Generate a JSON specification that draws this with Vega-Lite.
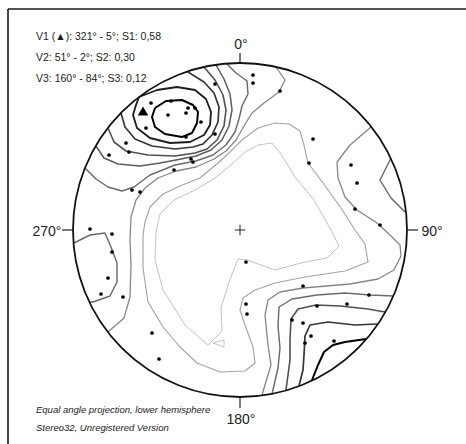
{
  "$schema": "https://vega.github.io/schema/vega-lite/v6.json",
  "width": 466,
  "height": 444,
  "padding": 0,
  "autosize": {"type": "none"},
  "background": "white",
  "config": {"view": {"stroke": null}},
  "datasets": {
    "contours": [
      {"c":"R1","l":8,"o":0,"x":-85,"y":122},{"c":"R1","l":8,"o":1,"x":-74,"y":129},{"c":"R1","l":8,"o":2,"x":-58,"y":130},{"c":"R1","l":8,"o":3,"x":-47,"y":125},{"c":"R1","l":8,"o":4,"x":-42,"y":118},{"c":"R1","l":8,"o":5,"x":-43,"y":107},{"c":"R1","l":8,"o":6,"x":-48,"y":97},{"c":"R1","l":8,"o":7,"x":-58,"y":93},{"c":"R1","l":8,"o":8,"x":-75,"y":96},{"c":"R1","l":8,"o":9,"x":-85,"y":103},{"c":"R1","l":8,"o":10,"x":-88,"y":113},{"c":"R1","l":8,"o":11,"x":-85,"y":122},
      {"c":"R2","l":7,"o":0,"x":-101,"y":133},{"c":"R2","l":7,"o":1,"x":-83,"y":140},{"c":"R2","l":7,"o":2,"x":-63,"y":143},{"c":"R2","l":7,"o":3,"x":-45,"y":140},{"c":"R2","l":7,"o":4,"x":-34,"y":131},{"c":"R2","l":7,"o":5,"x":-29,"y":118},{"c":"R2","l":7,"o":6,"x":-30,"y":105},{"c":"R2","l":7,"o":7,"x":-36,"y":95},{"c":"R2","l":7,"o":8,"x":-50,"y":88},{"c":"R2","l":7,"o":9,"x":-70,"y":87},{"c":"R2","l":7,"o":10,"x":-90,"y":92},{"c":"R2","l":7,"o":11,"x":-103,"y":102},{"c":"R2","l":7,"o":12,"x":-107,"y":115},{"c":"R2","l":7,"o":13,"x":-104,"y":125},{"c":"R2","l":7,"o":14,"x":-101,"y":133},
      {"c":"R3","l":6,"o":0,"x":-119,"y":117},{"c":"R3","l":6,"o":1,"x":-115,"y":103},{"c":"R3","l":6,"o":2,"x":-105,"y":91},{"c":"R3","l":6,"o":3,"x":-88,"y":84},{"c":"R3","l":6,"o":4,"x":-65,"y":81},{"c":"R3","l":6,"o":5,"x":-47,"y":83},{"c":"R3","l":6,"o":6,"x":-37,"y":86},{"c":"R3","l":6,"o":7,"x":-28,"y":95},{"c":"R3","l":6,"o":8,"x":-22,"y":108},{"c":"R3","l":6,"o":9,"x":-21,"y":123},{"c":"R3","l":6,"o":10,"x":-26,"y":137},{"c":"R3","l":6,"o":11,"x":-36,"y":148},{"c":"R3","l":6,"o":12,"x":-52,"y":158},
      {"c":"R4","l":5,"o":0,"x":-132,"y":102},{"c":"R4","l":5,"o":1,"x":-126,"y":88},{"c":"R4","l":5,"o":2,"x":-114,"y":79},{"c":"R4","l":5,"o":3,"x":-92,"y":75},{"c":"R4","l":5,"o":4,"x":-65,"y":74},{"c":"R4","l":5,"o":5,"x":-45,"y":77},{"c":"R4","l":5,"o":6,"x":-33,"y":81},{"c":"R4","l":5,"o":7,"x":-23,"y":90},{"c":"R4","l":5,"o":8,"x":-16,"y":104},{"c":"R4","l":5,"o":9,"x":-14,"y":120},{"c":"R4","l":5,"o":10,"x":-17,"y":135},{"c":"R4","l":5,"o":11,"x":-25,"y":150},{"c":"R4","l":5,"o":12,"x":-36,"y":163},
      {"c":"R4b","l":4.5,"o":0,"x":-144,"y":84},{"c":"R4b","l":4.5,"o":1,"x":-136,"y":72},{"c":"R4b","l":4.5,"o":2,"x":-122,"y":66},{"c":"R4b","l":4.5,"o":3,"x":-100,"y":64},{"c":"R4b","l":4.5,"o":4,"x":-80,"y":67},{"c":"R4b","l":4.5,"o":5,"x":-64,"y":70},{"c":"R4b","l":4.5,"o":6,"x":-44,"y":74},{"c":"R4b","l":4.5,"o":7,"x":-29,"y":80},{"c":"R4b","l":4.5,"o":8,"x":-18,"y":90},{"c":"R4b","l":4.5,"o":9,"x":-11,"y":104},{"c":"R4b","l":4.5,"o":10,"x":-8,"y":120},{"c":"R4b","l":4.5,"o":11,"x":-10,"y":136},{"c":"R4b","l":4.5,"o":12,"x":-16,"y":151},{"c":"R4b","l":4.5,"o":13,"x":-24,"y":165},
      {"c":"A","l":4,"o":0,"x":-155,"y":62},{"c":"A","l":4,"o":1,"x":-144,"y":51},{"c":"A","l":4,"o":2,"x":-132,"y":43},{"c":"A","l":4,"o":3,"x":-118,"y":39},{"c":"A","l":4,"o":4,"x":-106,"y":43},{"c":"A","l":4,"o":5,"x":-90,"y":55},{"c":"A","l":4,"o":6,"x":-65,"y":65},{"c":"A","l":4,"o":7,"x":-44,"y":69},{"c":"A","l":4,"o":8,"x":-27,"y":75},{"c":"A","l":4,"o":9,"x":-14,"y":85},{"c":"A","l":4,"o":10,"x":-5,"y":98},{"c":"A","l":4,"o":11,"x":-1,"y":111},{"c":"A","l":4,"o":12,"x":2,"y":124},{"c":"A","l":4,"o":13,"x":8,"y":136},{"c":"A","l":4,"o":14,"x":7,"y":149},{"c":"A","l":4,"o":15,"x":-4,"y":157},{"c":"A","l":4,"o":16,"x":-13,"y":166},
      {"c":"Q","l":3,"o":0,"x":36,"y":163},{"c":"Q","l":3,"o":1,"x":45,"y":150},{"c":"Q","l":3,"o":2,"x":39,"y":138},{"c":"Q","l":3,"o":3,"x":24,"y":127},{"c":"Q","l":3,"o":4,"x":12,"y":117},{"c":"Q","l":3,"o":5,"x":4,"y":104},{"c":"Q","l":3,"o":6,"x":-4,"y":90},{"c":"Q","l":3,"o":7,"x":-14,"y":79},{"c":"Q","l":3,"o":8,"x":-26,"y":71},{"c":"Q","l":3,"o":9,"x":-44,"y":63},{"c":"Q","l":3,"o":10,"x":-64,"y":59},{"c":"Q","l":3,"o":11,"x":-82,"y":52},{"c":"Q","l":3,"o":12,"x":-95,"y":42},{"c":"Q","l":3,"o":13,"x":-104,"y":30},{"c":"Q","l":3,"o":14,"x":-109,"y":13},{"c":"Q","l":3,"o":15,"x":-110,"y":-10},{"c":"Q","l":3,"o":16,"x":-109,"y":-35},{"c":"Q","l":3,"o":17,"x":-110,"y":-67},{"c":"Q","l":3,"o":18,"x":-116,"y":-88},{"c":"Q","l":3,"o":19,"x":-132,"y":-102},
      {"c":"L2","l":2,"o":0,"x":-95,"y":8},{"c":"L2","l":2,"o":1,"x":-90,"y":23},{"c":"L2","l":2,"o":2,"x":-77,"y":36},{"c":"L2","l":2,"o":3,"x":-60,"y":44},{"c":"L2","l":2,"o":4,"x":-40,"y":52},{"c":"L2","l":2,"o":5,"x":-22,"y":67},{"c":"L2","l":2,"o":6,"x":-10,"y":78},{"c":"L2","l":2,"o":7,"x":2,"y":90},{"c":"L2","l":2,"o":8,"x":18,"y":102},{"c":"L2","l":2,"o":9,"x":35,"y":107},{"c":"L2","l":2,"o":10,"x":49,"y":106},{"c":"L2","l":2,"o":11,"x":60,"y":99},{"c":"L2","l":2,"o":12,"x":64,"y":85},{"c":"L2","l":2,"o":13,"x":68,"y":67},{"c":"L2","l":2,"o":14,"x":83,"y":47},{"c":"L2","l":2,"o":15,"x":101,"y":22},{"c":"L2","l":2,"o":16,"x":115,"y":0},{"c":"L2","l":2,"o":17,"x":125,"y":-14},{"c":"L2","l":2,"o":18,"x":128,"y":-32},{"c":"L2","l":2,"o":19,"x":105,"y":-41},{"c":"L2","l":2,"o":20,"x":65,"y":-47},{"c":"L2","l":2,"o":21,"x":35,"y":-53},{"c":"L2","l":2,"o":22,"x":15,"y":-60},{"c":"L2","l":2,"o":23,"x":3,"y":-68},{"c":"L2","l":2,"o":24,"x":0,"y":-80},{"c":"L2","l":2,"o":25,"x":5,"y":-95},{"c":"L2","l":2,"o":26,"x":13,"y":-117},{"c":"L2","l":2,"o":27,"x":15,"y":-133},{"c":"L2","l":2,"o":28,"x":5,"y":-141},{"c":"L2","l":2,"o":29,"x":-20,"y":-142},{"c":"L2","l":2,"o":30,"x":-43,"y":-133},{"c":"L2","l":2,"o":31,"x":-60,"y":-117},{"c":"L2","l":2,"o":32,"x":-77,"y":-97},{"c":"L2","l":2,"o":33,"x":-92,"y":-72},{"c":"L2","l":2,"o":34,"x":-97,"y":-38},{"c":"L2","l":2,"o":35,"x":-97,"y":-5},{"c":"L2","l":2,"o":36,"x":-95,"y":8},
      {"c":"L1","l":1,"o":0,"x":-84,"y":-2},{"c":"L1","l":1,"o":1,"x":-80,"y":16},{"c":"L1","l":1,"o":2,"x":-66,"y":30},{"c":"L1","l":1,"o":3,"x":-45,"y":40},{"c":"L1","l":1,"o":4,"x":-25,"y":52},{"c":"L1","l":1,"o":5,"x":-8,"y":66},{"c":"L1","l":1,"o":6,"x":5,"y":78},{"c":"L1","l":1,"o":7,"x":18,"y":85},{"c":"L1","l":1,"o":8,"x":32,"y":87},{"c":"L1","l":1,"o":9,"x":41,"y":76},{"c":"L1","l":1,"o":10,"x":55,"y":53},{"c":"L1","l":1,"o":11,"x":74,"y":30},{"c":"L1","l":1,"o":12,"x":91,"y":0},{"c":"L1","l":1,"o":13,"x":99,"y":-16},{"c":"L1","l":1,"o":14,"x":87,"y":-28},{"c":"L1","l":1,"o":15,"x":61,"y":-33},{"c":"L1","l":1,"o":16,"x":35,"y":-40},{"c":"L1","l":1,"o":17,"x":21,"y":-35},{"c":"L1","l":1,"o":18,"x":7,"y":-30},{"c":"L1","l":1,"o":19,"x":-2,"y":-29},{"c":"L1","l":1,"o":20,"x":-11,"y":-52},{"c":"L1","l":1,"o":21,"x":-19,"y":-78},{"c":"L1","l":1,"o":22,"x":-18,"y":-101},{"c":"L1","l":1,"o":23,"x":-32,"y":-115},{"c":"L1","l":1,"o":24,"x":-55,"y":-95},{"c":"L1","l":1,"o":25,"x":-77,"y":-60},{"c":"L1","l":1,"o":26,"x":-85,"y":-30},{"c":"L1","l":1,"o":27,"x":-84,"y":-2},
      {"c":"L1b","l":1,"o":0,"x":-27,"y":-113},{"c":"L1b","l":1,"o":1,"x":-16,"y":-110},{"c":"L1b","l":1,"o":2,"x":-16,"y":-117},{"c":"L1b","l":1,"o":3,"x":-27,"y":-113},
      {"c":"C","l":3,"o":0,"x":131,"y":103},{"c":"C","l":3,"o":1,"x":110,"y":85},{"c":"C","l":3,"o":2,"x":97,"y":68},{"c":"C","l":3,"o":3,"x":98,"y":52},{"c":"C","l":3,"o":4,"x":105,"y":33},{"c":"C","l":3,"o":5,"x":117,"y":20},{"c":"C","l":3,"o":6,"x":137,"y":7},{"c":"C","l":3,"o":7,"x":150,"y":-5},{"c":"C","l":3,"o":8,"x":160,"y":-15},{"c":"C","l":3,"o":9,"x":161,"y":-26},{"c":"C","l":3,"o":10,"x":154,"y":-40},{"c":"C","l":3,"o":11,"x":138,"y":-49},{"c":"C","l":3,"o":12,"x":110,"y":-54},{"c":"C","l":3,"o":13,"x":63,"y":-58},{"c":"C","l":3,"o":14,"x":40,"y":-62},{"c":"C","l":3,"o":15,"x":28,"y":-70},{"c":"C","l":3,"o":16,"x":25,"y":-85},{"c":"C","l":3,"o":17,"x":28,"y":-115},{"c":"C","l":3,"o":18,"x":31,"y":-135},{"c":"C","l":3,"o":19,"x":22,"y":-165},
      {"c":"T4","l":4,"o":0,"x":153,"y":-66},{"c":"T4","l":4,"o":1,"x":130,"y":-65},{"c":"T4","l":4,"o":2,"x":105,"y":-63},{"c":"T4","l":4,"o":3,"x":77,"y":-65},{"c":"T4","l":4,"o":4,"x":52,"y":-69},{"c":"T4","l":4,"o":5,"x":39,"y":-77},{"c":"T4","l":4,"o":6,"x":38,"y":-96},{"c":"T4","l":4,"o":7,"x":40,"y":-118},{"c":"T4","l":4,"o":8,"x":38,"y":-138},{"c":"T4","l":4,"o":9,"x":32,"y":-164},
      {"c":"T3","l":5,"o":0,"x":145,"y":-82},{"c":"T3","l":5,"o":1,"x":128,"y":-79},{"c":"T3","l":5,"o":2,"x":100,"y":-76},{"c":"T3","l":5,"o":3,"x":76,"y":-75},{"c":"T3","l":5,"o":4,"x":58,"y":-79},{"c":"T3","l":5,"o":5,"x":51,"y":-89},{"c":"T3","l":5,"o":6,"x":50,"y":-110},{"c":"T3","l":5,"o":7,"x":50,"y":-130},{"c":"T3","l":5,"o":8,"x":46,"y":-160},
      {"c":"T2","l":6,"o":0,"x":137,"y":-94},{"c":"T2","l":6,"o":1,"x":115,"y":-95},{"c":"T2","l":6,"o":2,"x":88,"y":-92},{"c":"T2","l":6,"o":3,"x":70,"y":-95},{"c":"T2","l":6,"o":4,"x":65,"y":-106},{"c":"T2","l":6,"o":5,"x":64,"y":-125},{"c":"T2","l":6,"o":6,"x":63,"y":-140},{"c":"T2","l":6,"o":7,"x":59,"y":-156},
      {"c":"T1","l":8,"o":0,"x":126,"y":-109},{"c":"T1","l":8,"o":1,"x":105,"y":-112},{"c":"T1","l":8,"o":2,"x":93,"y":-115},{"c":"T1","l":8,"o":3,"x":84,"y":-122},{"c":"T1","l":8,"o":4,"x":78,"y":-135},{"c":"T1","l":8,"o":5,"x":72,"y":-150},
      {"c":"D","l":4,"o":0,"x":151,"y":72},{"c":"D","l":4,"o":1,"x":140,"y":50},{"c":"D","l":4,"o":2,"x":151,"y":32},{"c":"D","l":4,"o":3,"x":165,"y":18},
      {"c":"Wc","l":4,"o":0,"x":-166,"y":-13},{"c":"Wc","l":4,"o":1,"x":-150,"y":-5},{"c":"Wc","l":4,"o":2,"x":-135,"y":-3},{"c":"Wc","l":4,"o":3,"x":-129,"y":-17},{"c":"Wc","l":4,"o":4,"x":-123,"y":-33},{"c":"Wc","l":4,"o":5,"x":-123,"y":-52},{"c":"Wc","l":4,"o":6,"x":-130,"y":-66},{"c":"Wc","l":4,"o":7,"x":-147,"y":-72},{"c":"Wc","l":4,"o":8,"x":-151,"y":-72}
    ],
    "poles": [
      {"x":13,"y":155},{"x":13,"y":147},{"x":40,"y":139},{"x":-25,"y":146},{"x":-89,"y":127},{"x":-69,"y":129},{"x":-52,"y":122},{"x":-45,"y":122},{"x":-72,"y":115},{"x":-54,"y":117},{"x":-39,"y":108},{"x":-94,"y":102},{"x":-54,"y":93},{"x":-25,"y":96},{"x":-114,"y":87},{"x":-131,"y":75},{"x":-111,"y":78},{"x":-49,"y":71},{"x":-47,"y":68},{"x":-66,"y":60},{"x":-108,"y":40},{"x":-100,"y":38},{"x":73,"y":91},{"x":69,"y":67},{"x":111,"y":65},{"x":117,"y":47},{"x":115,"y":21},{"x":140,"y":5},{"x":-150,"y":1},{"x":-128,"y":-4},{"x":-128,"y":-22},{"x":-132,"y":-48},{"x":-139,"y":-64},{"x":-117,"y":-67},{"x":-88,"y":-103},{"x":-81,"y":-129},{"x":6,"y":-32},{"x":63,"y":-56},{"x":129,"y":-65},{"x":107,"y":-74},{"x":77,"y":-76},{"x":6,"y":-74},{"x":7,"y":-84},{"x":52,"y":-90},{"x":63,"y":-93},{"x":71,"y":-106},{"x":65,"y":-113},{"x":94,"y":-111}
    ],
    "origin": [{"x":0,"y":0}],
    "v1": [{"x":-97,"y":119}],
    "ticks": [
      {"x":-167,"y":0,"x2":-178,"y2":0},{"x":167,"y":0,"x2":178,"y2":0},{"x":0,"y":167,"x2":0,"y2":177},{"x":0,"y":-167,"x2":0,"y2":-178}
    ],
    "frame": [
      {"x":-232,"y":221,"x2":226,"y2":221},{"x":-232,"y":221,"x2":-232,"y2":-214}
    ],
    "dirs": [
      {"t":"0°","x":1,"y":181},{"t":"90°","x":192,"y":-6},{"t":"180°","x":1,"y":-194},{"t":"270°","x":-193,"y":-6}
    ],
    "header": [
      {"t":"V1 (▲): 321° - 5°; S1: 0,58","x":-204,"y":190},
      {"t":"V2: 51° - 2°; S2: 0,30","x":-204,"y":169},
      {"t":"V3: 160° - 84°; S3: 0,12","x":-204,"y":148}
    ],
    "footer": [
      {"t":"Equal angle projection, lower hemisphere","x":-204,"y":-183},
      {"t":"Stereo32, Unregistered Version","x":-204,"y":-201}
    ]
  },
  "layer": [
    {
      "data": {"name": "frame"},
      "mark": {"type": "rule", "stroke": "#1a1a1a", "strokeWidth": 1.6},
      "encoding": {
        "x": {"field": "x", "type": "quantitative", "scale": {"domain": [-240, 226], "nice": false, "zero": false}, "axis": null},
        "y": {"field": "y", "type": "quantitative", "scale": {"domain": [-214, 230], "nice": false, "zero": false}, "axis": null},
        "x2": {"field": "x2"},
        "y2": {"field": "y2"}
      }
    },
    {
      "data": {"name": "contours"},
      "mark": {"type": "line", "interpolate": "linear", "strokeJoin": "round"},
      "encoding": {
        "x": {"field": "x", "type": "quantitative", "scale": {"domain": [-240, 226], "nice": false, "zero": false}, "axis": null},
        "y": {"field": "y", "type": "quantitative", "scale": {"domain": [-214, 230], "nice": false, "zero": false}, "axis": null},
        "detail": {"field": "c"},
        "order": {"field": "o", "type": "quantitative"},
        "color": {"field": "l", "type": "quantitative", "scale": {"domain": [1, 8], "range": ["#c2c2c2", "#000000"]}, "legend": null},
        "strokeWidth": {"field": "l", "type": "quantitative", "scale": {"domain": [1, 8], "range": [1, 2]}, "legend": null}
      }
    },
    {
      "data": {"name": "origin"},
      "mark": {"type": "point", "shape": "circle", "filled": false, "stroke": "#111111", "strokeWidth": 1.8, "opacity": 1, "size": 111556},
      "encoding": {
        "x": {"field": "x", "type": "quantitative", "scale": {"domain": [-240, 226], "nice": false, "zero": false}, "axis": null},
        "y": {"field": "y", "type": "quantitative", "scale": {"domain": [-214, 230], "nice": false, "zero": false}, "axis": null}
      }
    },
    {
      "data": {"name": "origin"},
      "mark": {"type": "point", "shape": "M-1,0L1,0M0,-1L0,1", "filled": false, "stroke": "#222222", "strokeWidth": 1, "opacity": 1, "size": 110},
      "encoding": {
        "x": {"field": "x", "type": "quantitative", "scale": {"domain": [-240, 226], "nice": false, "zero": false}, "axis": null},
        "y": {"field": "y", "type": "quantitative", "scale": {"domain": [-214, 230], "nice": false, "zero": false}, "axis": null}
      }
    },
    {
      "data": {"name": "ticks"},
      "mark": {"type": "rule", "stroke": "#222222", "strokeWidth": 1.2},
      "encoding": {
        "x": {"field": "x", "type": "quantitative", "scale": {"domain": [-240, 226], "nice": false, "zero": false}, "axis": null},
        "y": {"field": "y", "type": "quantitative", "scale": {"domain": [-214, 230], "nice": false, "zero": false}, "axis": null},
        "x2": {"field": "x2"},
        "y2": {"field": "y2"}
      }
    },
    {
      "data": {"name": "poles"},
      "mark": {"type": "point", "shape": "circle", "filled": true, "color": "#000000", "opacity": 1, "size": 14},
      "encoding": {
        "x": {"field": "x", "type": "quantitative", "scale": {"domain": [-240, 226], "nice": false, "zero": false}, "axis": null},
        "y": {"field": "y", "type": "quantitative", "scale": {"domain": [-214, 230], "nice": false, "zero": false}, "axis": null}
      }
    },
    {
      "data": {"name": "v1"},
      "mark": {"type": "point", "shape": "triangle-up", "filled": true, "color": "#000000", "opacity": 1, "size": 110},
      "encoding": {
        "x": {"field": "x", "type": "quantitative", "scale": {"domain": [-240, 226], "nice": false, "zero": false}, "axis": null},
        "y": {"field": "y", "type": "quantitative", "scale": {"domain": [-214, 230], "nice": false, "zero": false}, "axis": null}
      }
    },
    {
      "data": {"name": "dirs"},
      "mark": {"type": "text", "align": "center", "baseline": "alphabetic", "font": "Liberation Sans", "fontSize": 14, "color": "#222222"},
      "encoding": {
        "x": {"field": "x", "type": "quantitative", "scale": {"domain": [-240, 226], "nice": false, "zero": false}, "axis": null},
        "y": {"field": "y", "type": "quantitative", "scale": {"domain": [-214, 230], "nice": false, "zero": false}, "axis": null},
        "text": {"field": "t"}
      }
    },
    {
      "data": {"name": "header"},
      "mark": {"type": "text", "align": "left", "baseline": "alphabetic", "font": "Liberation Sans", "fontSize": 10.5, "color": "#1a1a1a"},
      "encoding": {
        "x": {"field": "x", "type": "quantitative", "scale": {"domain": [-240, 226], "nice": false, "zero": false}, "axis": null},
        "y": {"field": "y", "type": "quantitative", "scale": {"domain": [-214, 230], "nice": false, "zero": false}, "axis": null},
        "text": {"field": "t"}
      }
    },
    {
      "data": {"name": "footer"},
      "mark": {"type": "text", "align": "left", "baseline": "alphabetic", "font": "Liberation Sans", "fontSize": 9.5, "fontStyle": "italic", "color": "#222222"},
      "encoding": {
        "x": {"field": "x", "type": "quantitative", "scale": {"domain": [-240, 226], "nice": false, "zero": false}, "axis": null},
        "y": {"field": "y", "type": "quantitative", "scale": {"domain": [-214, 230], "nice": false, "zero": false}, "axis": null},
        "text": {"field": "t"}
      }
    }
  ]
}
